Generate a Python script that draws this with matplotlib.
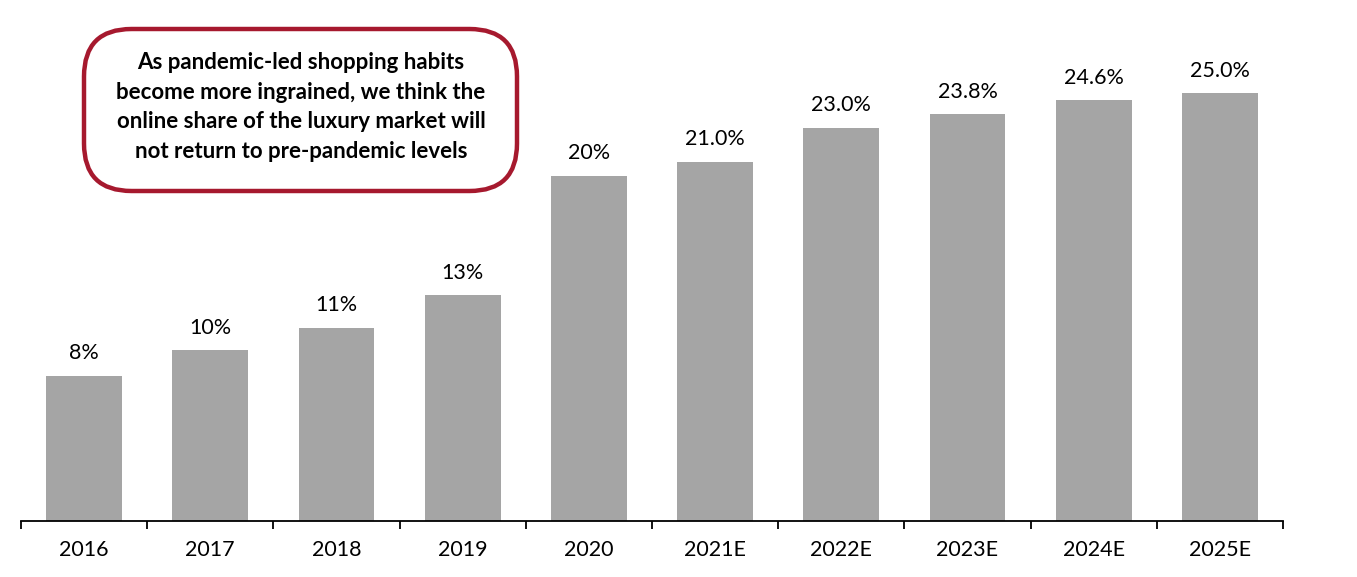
import numpy as np
import matplotlib.pyplot as plt
import matplotlib as mpl
from matplotlib.patches import FancyBboxPatch

# Data
years = ['2016', '2017', '2018', '2019', '2020',
         '2021E', '2022E', '2023E', '2024E', '2025E']
share = [8.5, 10.0, 11.3, 13.2, 20.2, 21.0, 23.0, 23.8, 24.6, 25.0]
labels = ['8%', '10%', '11%', '13%', '20%',
          '21.0%', '23.0%', '23.8%', '24.6%', '25.0%']
note = ('As pandemic-led shopping habits\n'
        'become more ingrained, we think the\n'
        'online share of the luxury market will\n'
        'not return to pre-pandemic levels')

plt.rcParams['font.family'] = ['Lato', 'DejaVu Sans']

W, H = 1357, 577
fig = plt.figure(figsize=(W / 100, H / 100), dpi=100)
ax = fig.add_axes([21 / W, 56 / H, (1283 - 21) / W, 513 / H])

x = np.arange(len(years))
ax.bar(x, share, width=0.6, color='#A5A5A5')
for xi, v, lab in zip(x, share, labels):
    ax.annotate(lab, (xi, v), xytext=(0, 9), textcoords='offset points',
                ha='center', va='bottom', fontsize=15.5, color='black')

ax.set_xlim(-0.5, len(years) - 0.5)
ax.set_ylim(0, 30)
for s in ['top', 'right', 'left']:
    ax.spines[s].set_visible(False)
ax.spines['bottom'].set_linewidth(1.3)
ax.set_yticks([])
ax.set_xticks(np.arange(-0.5, len(years), 1.0))
ax.set_xticklabels([])
ax.set_xticks(x, minor=True)
ax.set_xticklabels(years, minor=True, fontsize=15.5)
ax.tick_params(axis='x', which='major', length=6, width=1.3)
ax.tick_params(axis='x', which='minor', length=0, pad=14)

# Callout box
box = FancyBboxPatch((84 / W, 1 - 191 / H), (517 - 84) / W, (191 - 29) / H,
                     boxstyle='round,pad=0,rounding_size=0.035',
                     transform=fig.transFigure, facecolor='white',
                     edgecolor='#A6192E', linewidth=3.2,
                     mutation_aspect=W / H)
fig.patches.append(box)
fig.text(301 / W, 1 - 107 / H, note, ha='center', va='center',
         fontsize=16, fontweight='bold', linespacing=1.5)

plt.savefig('out.png', dpi=100)
plt.close()
